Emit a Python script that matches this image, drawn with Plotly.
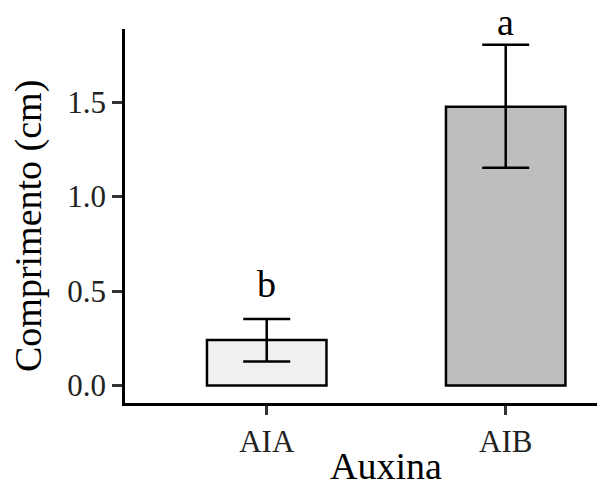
import plotly.graph_objects as go

# Data
categories = ["AIA", "AIB"]
means = [0.242, 1.476]
lower = [0.127, 1.153]
upper = [0.353, 1.803]
letters = ["b", "a"]
bar_colors = ["#F0F0F0", "#BEBEBE"]
y_ticks = [0.0, 0.5, 1.0, 1.5]

err_plus = [u - m for u, m in zip(upper, means)]
err_minus = [m - l for m, l in zip(means, lower)]

FONT = "Liberation Serif"

fig = go.Figure()
fig.add_trace(go.Bar(
    x=categories,
    y=means,
    width=0.5,
    marker=dict(color=bar_colors, line=dict(color="black", width=2.5)),
    error_y=dict(type="data", symmetric=False, array=err_plus, arrayminus=err_minus,
                 color="black", thickness=2.5, width=23.5),
    showlegend=False,
    cliponaxis=False,
))

label_shifts = [12, 0]
for i, (c, l) in enumerate(zip(categories, letters)):
    fig.add_annotation(x=c, y=upper[i], yshift=label_shifts[i], text=l, showarrow=False,
                       xanchor="center", yanchor="bottom",
                       font=dict(family=FONT, size=38, color="black"))

# axis titles as annotations
fig.add_annotation(xref="paper", yref="paper", x=0, y=0.5, xshift=-97, yshift=-10,
                   text="Comprimento (cm)", textangle=-90, showarrow=False,
                   xanchor="center", yanchor="middle",
                   font=dict(family=FONT, size=38, color="black"))
fig.add_annotation(xref="paper", yref="paper", x=0.5, y=0, xshift=25, yshift=-63,
                   text="Auxina", showarrow=False,
                   xanchor="center", yanchor="middle",
                   font=dict(family=FONT, size=38, color="black"))

fig.update_layout(
    width=597, height=483,
    margin=dict(l=125, r=0, t=29, b=80),
    paper_bgcolor="white", plot_bgcolor="white",
    font=dict(family=FONT, color="#222222"),
    xaxis=dict(range=[-0.593, 1.382], showline=True, linecolor="black", linewidth=2.5,
               ticks="outside", ticklen=9, tickwidth=2.5, tickcolor="#333333",
               showgrid=False, zeroline=False,
               tickfont=dict(family=FONT, size=31, color="#222222")),
    yaxis=dict(range=[-0.092, 1.887], showline=True, linecolor="black", linewidth=2.5,
               ticks="outside", ticklen=10, tickwidth=2.5, tickcolor="#333333",
               tickvals=y_ticks, tickformat=".1f",
               showgrid=False, zeroline=False,
               tickfont=dict(family=FONT, size=31, color="#222222")),
)

fig.write_html("out.html", config={"displayModeBar": False},
               post_script="document.body.style.margin='0';document.body.style.padding='0';document.body.style.overflow='hidden';")
